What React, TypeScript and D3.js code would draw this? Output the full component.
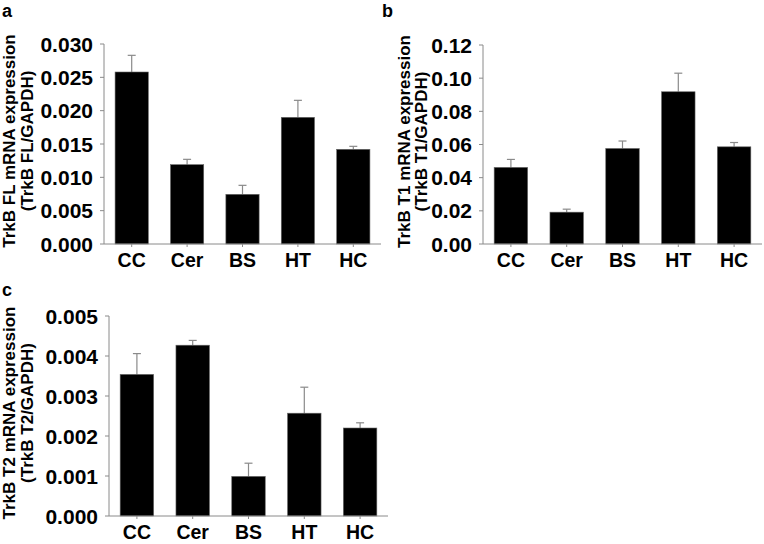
import React, { useEffect, useRef } from "react";
import * as d3 from "d3";

const categories = ["CC", "Cer", "BS", "HT", "HC"];

const flMeans = [0.0258, 0.0119, 0.00745, 0.019, 0.0142];
const flSem = [0.0025, 0.0008, 0.00135, 0.00255, 0.00045];
const flTicks = [0, 0.005, 0.01, 0.015, 0.02, 0.025, 0.03];

const t1Means = [0.0462, 0.0192, 0.0576, 0.0918, 0.0586];
const t1Sem = [0.0048, 0.0018, 0.0045, 0.0112, 0.0026];
const t1Ticks = [0, 0.02, 0.04, 0.06, 0.08, 0.1, 0.12];

const t2Means = [0.00354, 0.00427, 0.00099, 0.00257, 0.0022];
const t2Sem = [0.00052, 0.00012, 0.00033, 0.00065, 0.00013];
const t2Ticks = [0, 0.001, 0.002, 0.003, 0.004, 0.005];

const FONT = "'Liberation Sans', Arial, Helvetica, sans-serif";
const GRAY = "#8a8a8a";

type Panel = {
  letter: string;
  means: number[];
  sem: number[];
  ticks: number[];
  fmt: string;
  title1: string;
  title2: string;
  x0: number;
  x1: number;
  yTop: number;
  yBottom: number;
  letterX: number;
  letterY: number;
  title1X: number;
  title2X: number;
};

const panels: Panel[] = [
  {
    letter: "a", means: flMeans, sem: flSem, ticks: flTicks, fmt: ".3f",
    title1: "TrkB FL mRNA expression", title2: "(TrkB FL/GAPDH)",
    x0: 104, x1: 381, yTop: 44, yBottom: 244, letterX: 2, letterY: 17,
    title1X: 15, title2X: 33,
  },
  {
    letter: "b", means: t1Means, sem: t1Sem, ticks: t1Ticks, fmt: ".2f",
    title1: "TrkB T1 mRNA expression", title2: "(TrkB T1/GAPDH)",
    x0: 483, x1: 762, yTop: 45, yBottom: 244, letterX: 382, letterY: 17,
    title1X: 410, title2X: 427,
  },
  {
    letter: "c", means: t2Means, sem: t2Sem, ticks: t2Ticks, fmt: ".3f",
    title1: "TrkB T2 mRNA expression", title2: "(TrkB T2/GAPDH)",
    x0: 109, x1: 388, yTop: 316, yBottom: 516, letterX: 2, letterY: 296,
    title1X: 15, title2X: 33,
  },
];

export default function App() {
  const ref = useRef<SVGSVGElement | null>(null);

  useEffect(() => {
    const svg = d3.select(ref.current);
    svg.selectAll("*").remove();

    panels.forEach((p) => {
      const g = svg.append("g");
      const x = d3.scaleBand<string>().domain(categories).range([p.x0, p.x1]).paddingInner(0.4).paddingOuter(0.2);
      const yMax = p.ticks[p.ticks.length - 1];
      const y = d3.scaleLinear().domain([0, yMax]).range([p.yBottom, p.yTop]);
      const fmt = d3.format(p.fmt);

      // error bars (upper only)
      categories.forEach((c, i) => {
        const cx = (x(c) as number) + x.bandwidth() / 2;
        const top = y(p.means[i] + p.sem[i]);
        g.append("line").attr("x1", cx).attr("x2", cx).attr("y1", y(p.means[i])).attr("y2", top)
          .attr("stroke", GRAY).attr("stroke-width", 1.2);
        g.append("line").attr("x1", cx - 4).attr("x2", cx + 4).attr("y1", top).attr("y2", top)
          .attr("stroke", GRAY).attr("stroke-width", 1.2);
      });

      // bars
      g.selectAll("rect.bar").data(categories).enter().append("rect")
        .attr("x", (c) => x(c) as number)
        .attr("width", x.bandwidth())
        .attr("y", (_c, i) => y(p.means[i]))
        .attr("height", (_c, i) => p.yBottom - y(p.means[i]))
        .attr("fill", "#000")
        .attr("stroke", "#666")
        .attr("stroke-width", 0.6);

      // y axis
      g.append("line").attr("x1", p.x0).attr("x2", p.x0).attr("y1", p.yTop).attr("y2", p.yBottom)
        .attr("stroke", GRAY).attr("stroke-width", 1);
      p.ticks.forEach((t) => {
        g.append("line").attr("x1", p.x0 - 4).attr("x2", p.x0).attr("y1", y(t)).attr("y2", y(t))
          .attr("stroke", GRAY).attr("stroke-width", 1);
        g.append("text").attr("x", p.x0 - 11).attr("y", y(t)).attr("dy", "0.36em")
          .attr("text-anchor", "end").attr("font-family", FONT).attr("font-weight", "bold")
          .attr("font-size", 21).attr("fill", "#000").text(fmt(t));
      });

      // x axis
      g.append("line").attr("x1", p.x0).attr("x2", p.x1).attr("y1", p.yBottom).attr("y2", p.yBottom)
        .attr("stroke", GRAY).attr("stroke-width", 1);
      categories.forEach((c) => {
        const cx = (x(c) as number) + x.bandwidth() / 2;
        g.append("line").attr("x1", cx).attr("x2", cx).attr("y1", p.yBottom).attr("y2", p.yBottom + 3)
          .attr("stroke", GRAY).attr("stroke-width", 1);
        g.append("text").attr("x", cx).attr("y", p.yBottom + 23)
          .attr("text-anchor", "middle").attr("font-family", FONT).attr("font-weight", "bold")
          .attr("font-size", 19.5).attr("fill", "#000").text(c);
      });

      // y title
      const cy = (p.yTop + p.yBottom) / 2 - 3;
      [p.title1, p.title2].forEach((t, k) => {
        const tx = k === 0 ? p.title1X : p.title2X;
        g.append("text").attr("transform", `translate(${tx},${cy}) rotate(-90)`)
          .attr("text-anchor", "middle").attr("font-family", FONT).attr("font-weight", "bold")
          .attr("font-size", 17).attr("fill", "#000").text(t);
      });

      // panel letter
      g.append("text").attr("x", p.letterX).attr("y", p.letterY)
        .attr("font-family", FONT).attr("font-weight", "bold").attr("font-size", 18)
        .attr("fill", "#000").text(p.letter);
    });
  }, []);

  return (
    <svg ref={ref} width={764} height={544}
      style={{ position: "absolute", left: 0, top: 0, background: "#fff" }} />
  );
}
